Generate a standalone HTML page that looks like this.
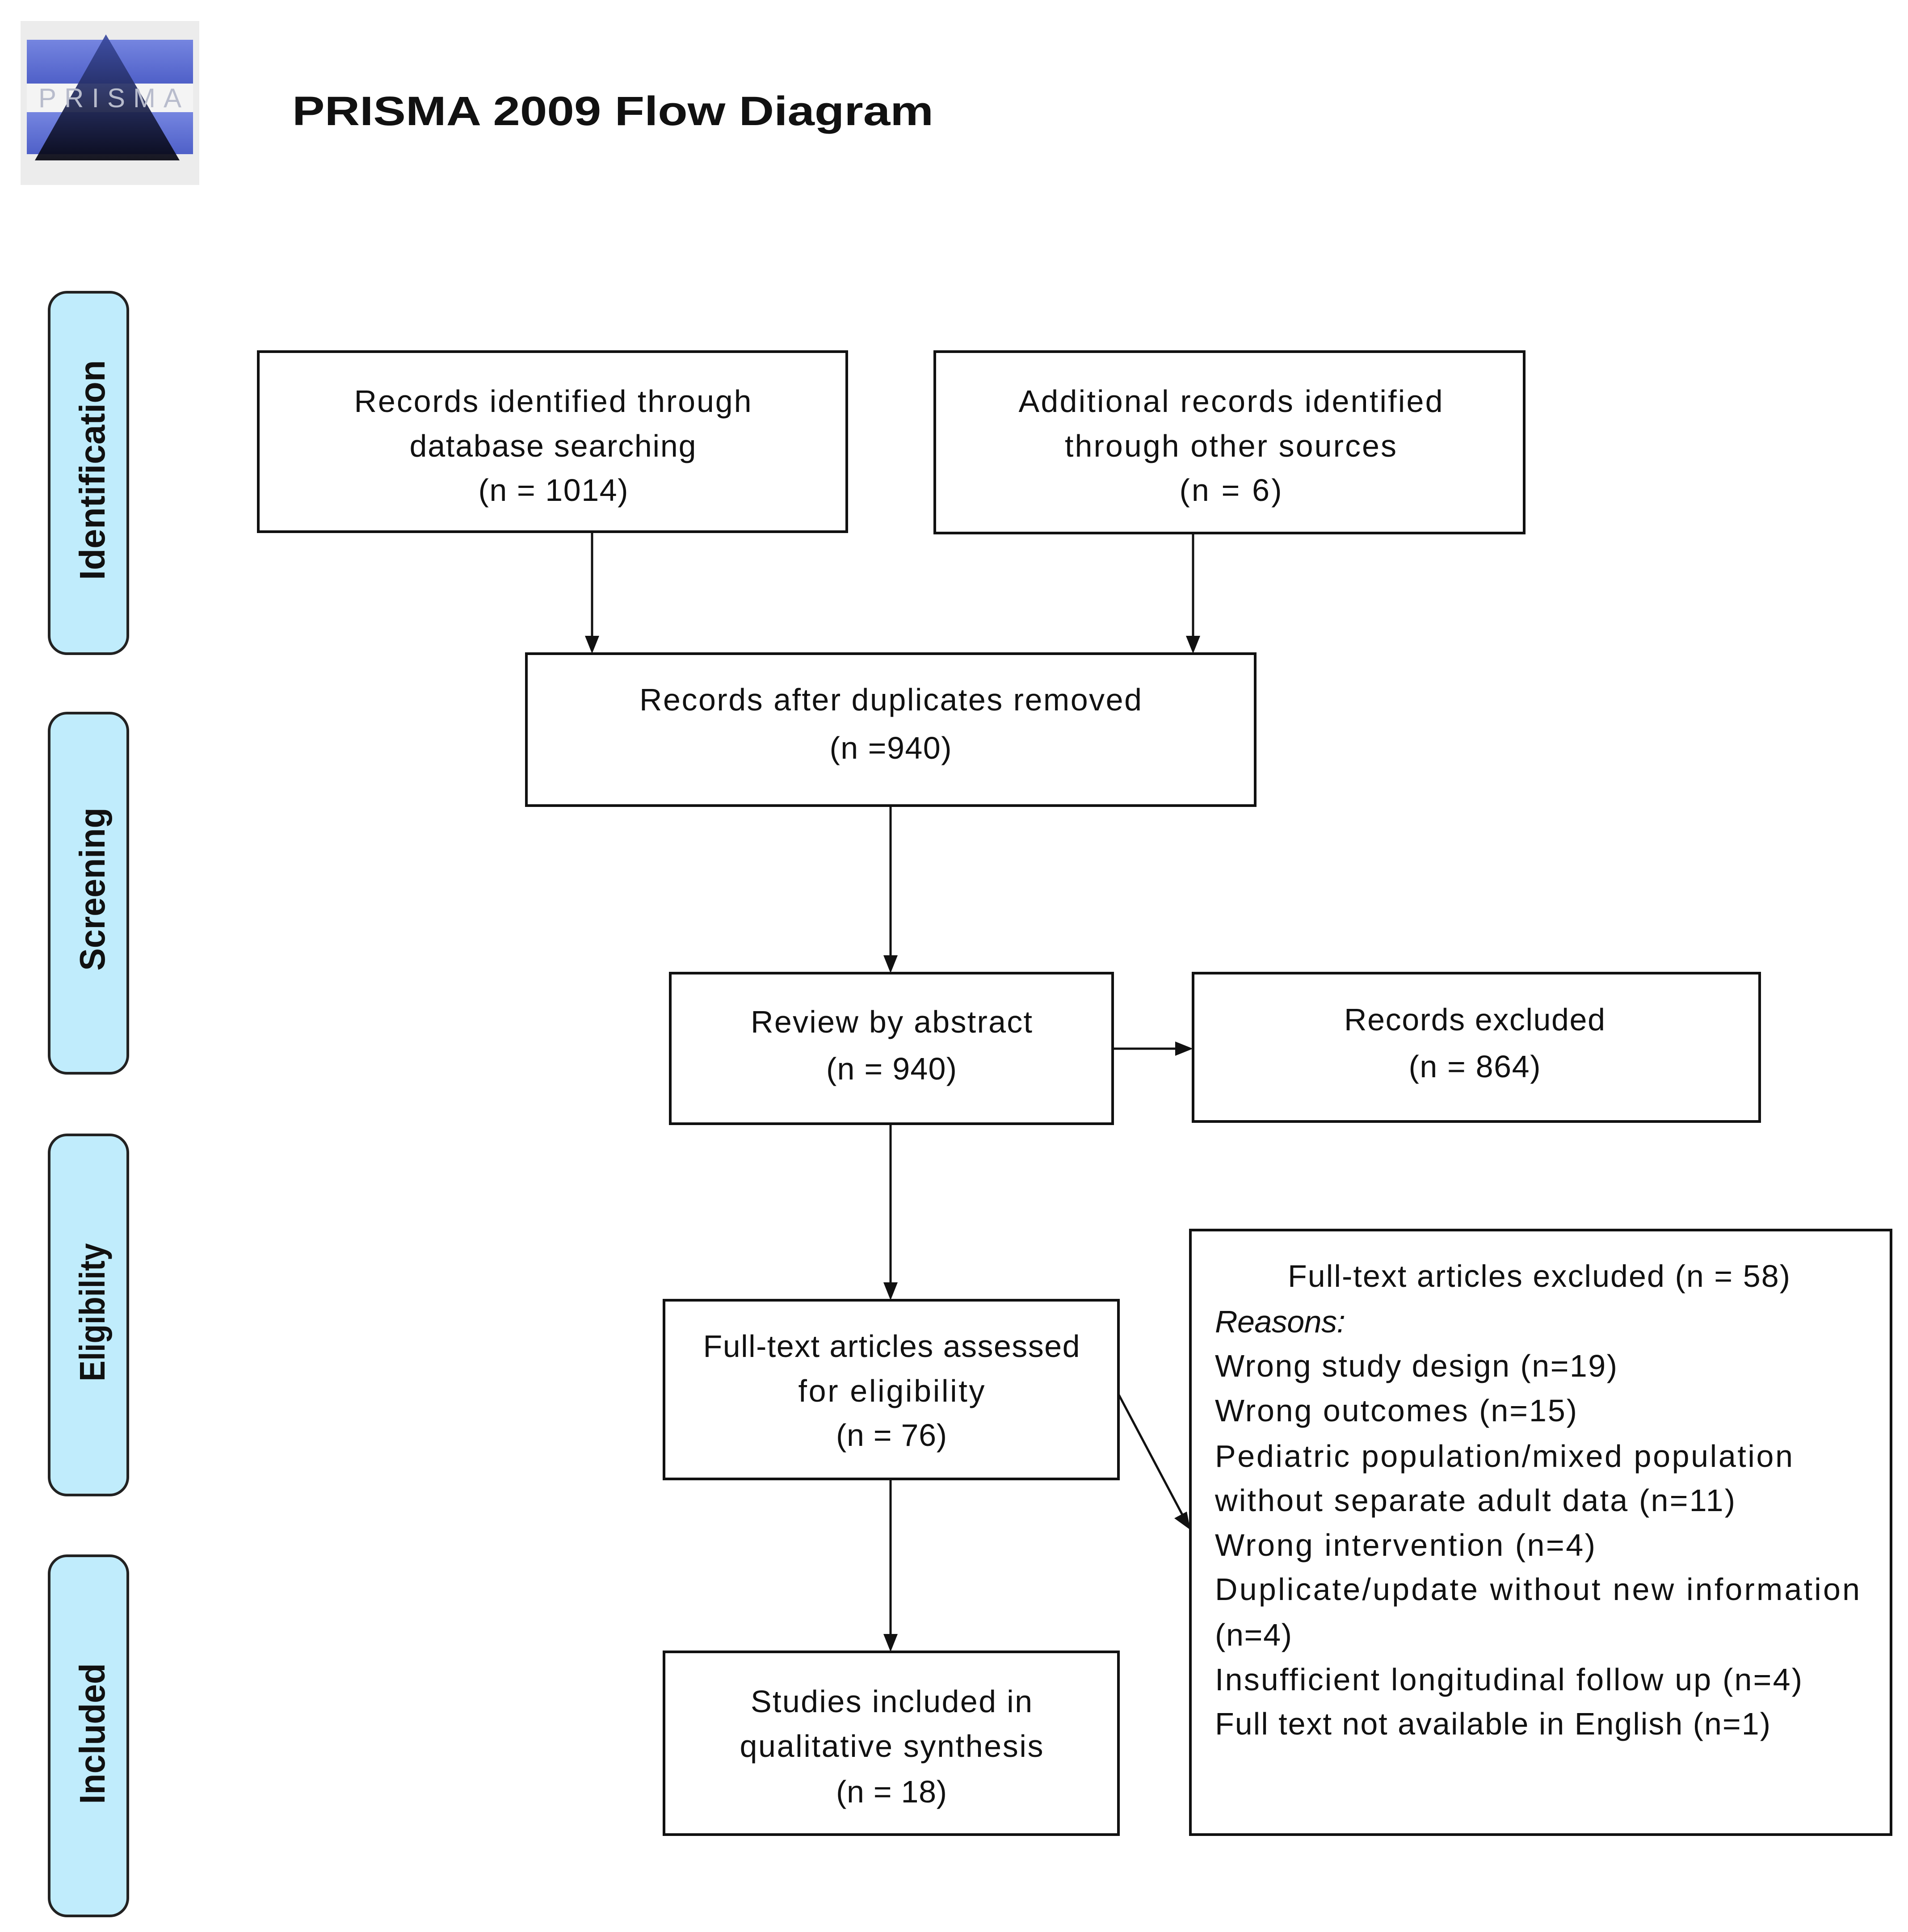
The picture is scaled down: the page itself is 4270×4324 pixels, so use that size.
<!DOCTYPE html>
<html><head><meta charset="utf-8"><style>
html,body{margin:0;padding:0;background:#fff}
svg{display:block}
text{font-family:"Liberation Sans",sans-serif;fill:#111}
</style></head><body>
<svg width="4270" height="4324" viewBox="0 0 4270 4324" xmlns="http://www.w3.org/2000/svg">
<defs>
<linearGradient id="bar" x1="0" y1="0" x2="0" y2="1"><stop offset="0" stop-color="#7585e0"/><stop offset="1" stop-color="#4f60c8"/></linearGradient>
<linearGradient id="tri" x1="0" y1="0" x2="0" y2="1"><stop offset="0" stop-color="#3a4aa0"/><stop offset="1" stop-color="#05050f"/></linearGradient>
<marker id="ah" markerWidth="10" markerHeight="10" refX="9" refY="5" orient="auto" markerUnits="userSpaceOnUse" viewBox="0 0 10 10">
</marker>
</defs>
<!-- logo -->
<rect x="46" y="47" width="400" height="367" fill="#ececec"/>
<rect x="60" y="89" width="372" height="98" fill="url(#bar)"/>
<rect x="60" y="251" width="372" height="94" fill="url(#bar)"/>
<rect x="60" y="187" width="372" height="64" fill="#f4f4f4"/>
<polygon points="237,77 402,359 78,359" fill="url(#tri)" opacity="0.92"/>
<text x="246" y="240" font-family="Liberation Serif" font-size="60" text-anchor="middle" fill="#aab" style="fill:#b8bccc" textLength="320">PRISMA</text>
<!-- title -->
<text x="654" y="280" font-size="92" font-weight="bold" textLength="1435" lengthAdjust="spacingAndGlyphs">PRISMA 2009 Flow Diagram</text>
<!-- tabs -->
<g fill="#c0ecfc" stroke="#222" stroke-width="6">
<rect x="110" y="654" width="176" height="809" rx="40"/>
<rect x="110" y="1596" width="176" height="806" rx="40"/>
<rect x="110" y="2540" width="176" height="806" rx="40"/>
<rect x="110" y="3482" width="176" height="806" rx="40"/>
</g>
<g font-size="80" font-weight="bold" text-anchor="middle">
<text transform="translate(234,1052) rotate(-90)" textLength="492" lengthAdjust="spacingAndGlyphs">Identification</text>
<text transform="translate(234,1990) rotate(-90)" textLength="365" lengthAdjust="spacingAndGlyphs">Screening</text>
<text transform="translate(234,2937) rotate(-90)" textLength="309" lengthAdjust="spacingAndGlyphs">Eligibility</text>
<text transform="translate(234,3880) rotate(-90)" textLength="315" lengthAdjust="spacingAndGlyphs">Included</text>
</g>
<!-- boxes -->
<g fill="#fff" stroke="#111" stroke-width="6">
<rect x="578" y="787" width="1317" height="403"/>
<rect x="2092" y="787" width="1319" height="406"/>
<rect x="1178" y="1463" width="1631" height="340"/>
<rect x="1500" y="2178" width="990" height="337"/>
<rect x="2670" y="2178" width="1268" height="332"/>
<rect x="1486" y="2910" width="1017" height="400"/>
<rect x="1486" y="3697" width="1017" height="409"/>
<rect x="2664" y="2753" width="1568" height="1353"/>
</g>
<!-- connectors -->
<g stroke="#111" stroke-width="5" fill="none">
<line x1="1325" y1="1190" x2="1325" y2="1425"/>
<line x1="2670" y1="1193" x2="2670" y2="1425"/>
<line x1="1993" y1="1803" x2="1993" y2="2140"/>
<line x1="1993" y1="2515" x2="1993" y2="2872"/>
<line x1="1993" y1="3310" x2="1993" y2="3659"/>
<line x1="2490" y1="2347" x2="2632" y2="2347"/>
<line x1="2503" y1="3120" x2="2646" y2="3390"/>
</g>
<g fill="#111">
<polygon points="1325,1463 1309,1423 1341,1423"/>
<polygon points="2670,1463 2654,1423 2686,1423"/>
<polygon points="1993,2178 1977,2138 2009,2138"/>
<polygon points="1993,2910 1977,2870 2009,2870"/>
<polygon points="1993,3697 1977,3657 2009,3657"/>
<polygon points="2670,2347 2630,2331 2630,2363"/>
<polygon points="2664,3424 2628,3398 2656,3383"/>
</g>
<!-- box texts -->
<g font-size="70" text-anchor="middle" lengthAdjust="spacingAndGlyphs">
<text x="1237" y="922" textLength="889">Records identified through</text>
<text x="1237" y="1022" textLength="641">database searching</text>
<text x="1238" y="1121" textLength="335">(n = 1014)</text>
<text x="2754" y="922" textLength="949">Additional records identified</text>
<text x="2754" y="1022" textLength="742">through other sources</text>
<text x="2754" y="1121" textLength="229">(n =  6)</text>
<text x="1993" y="1590" textLength="1124">Records after duplicates removed</text>
<text x="1993" y="1698" textLength="273">(n =940)</text>
<text x="1995" y="2311" textLength="630">Review by abstract</text>
<text x="1995" y="2416" textLength="292">(n = 940)</text>
<text x="3300" y="2306" textLength="584">Records excluded</text>
<text x="3300" y="2411" textLength="295">(n = 864)</text>
<text x="1995" y="3037" textLength="843">Full-text articles assessed</text>
<text x="1995" y="3137" textLength="417">for eligibility</text>
<text x="1995" y="3236" textLength="248">(n = 76)</text>
<text x="1995" y="3832" textLength="630">Studies included in</text>
<text x="1995" y="3932" textLength="679">qualitative synthesis</text>
<text x="1995" y="4034" textLength="248">(n = 18)</text>
</g>
<g font-size="70" lengthAdjust="spacingAndGlyphs">
<text x="2882" y="2880" textLength="1124">Full-text articles excluded (n = 58)</text>
<text x="2719" y="2982" font-style="italic" textLength="292">Reasons:</text>
<text x="2719" y="3081" textLength="900">Wrong study design (n=19)</text>
<text x="2719" y="3181" textLength="810">Wrong outcomes (n=15)</text>
<text x="2719" y="3283" textLength="1293">Pediatric population/mixed population</text>
<text x="2719" y="3382" textLength="1164">without separate adult data (n=11)</text>
<text x="2719" y="3482" textLength="851">Wrong intervention (n=4)</text>
<text x="2719" y="3581" textLength="1443">Duplicate/update without new information</text>
<text x="2719" y="3683" textLength="172">(n=4)</text>
<text x="2719" y="3783" textLength="1314">Insufficient longitudinal follow up (n=4)</text>
<text x="2719" y="3882" textLength="1243">Full text not available in English (n=1)</text>
</g>
</svg>
</body></html>
